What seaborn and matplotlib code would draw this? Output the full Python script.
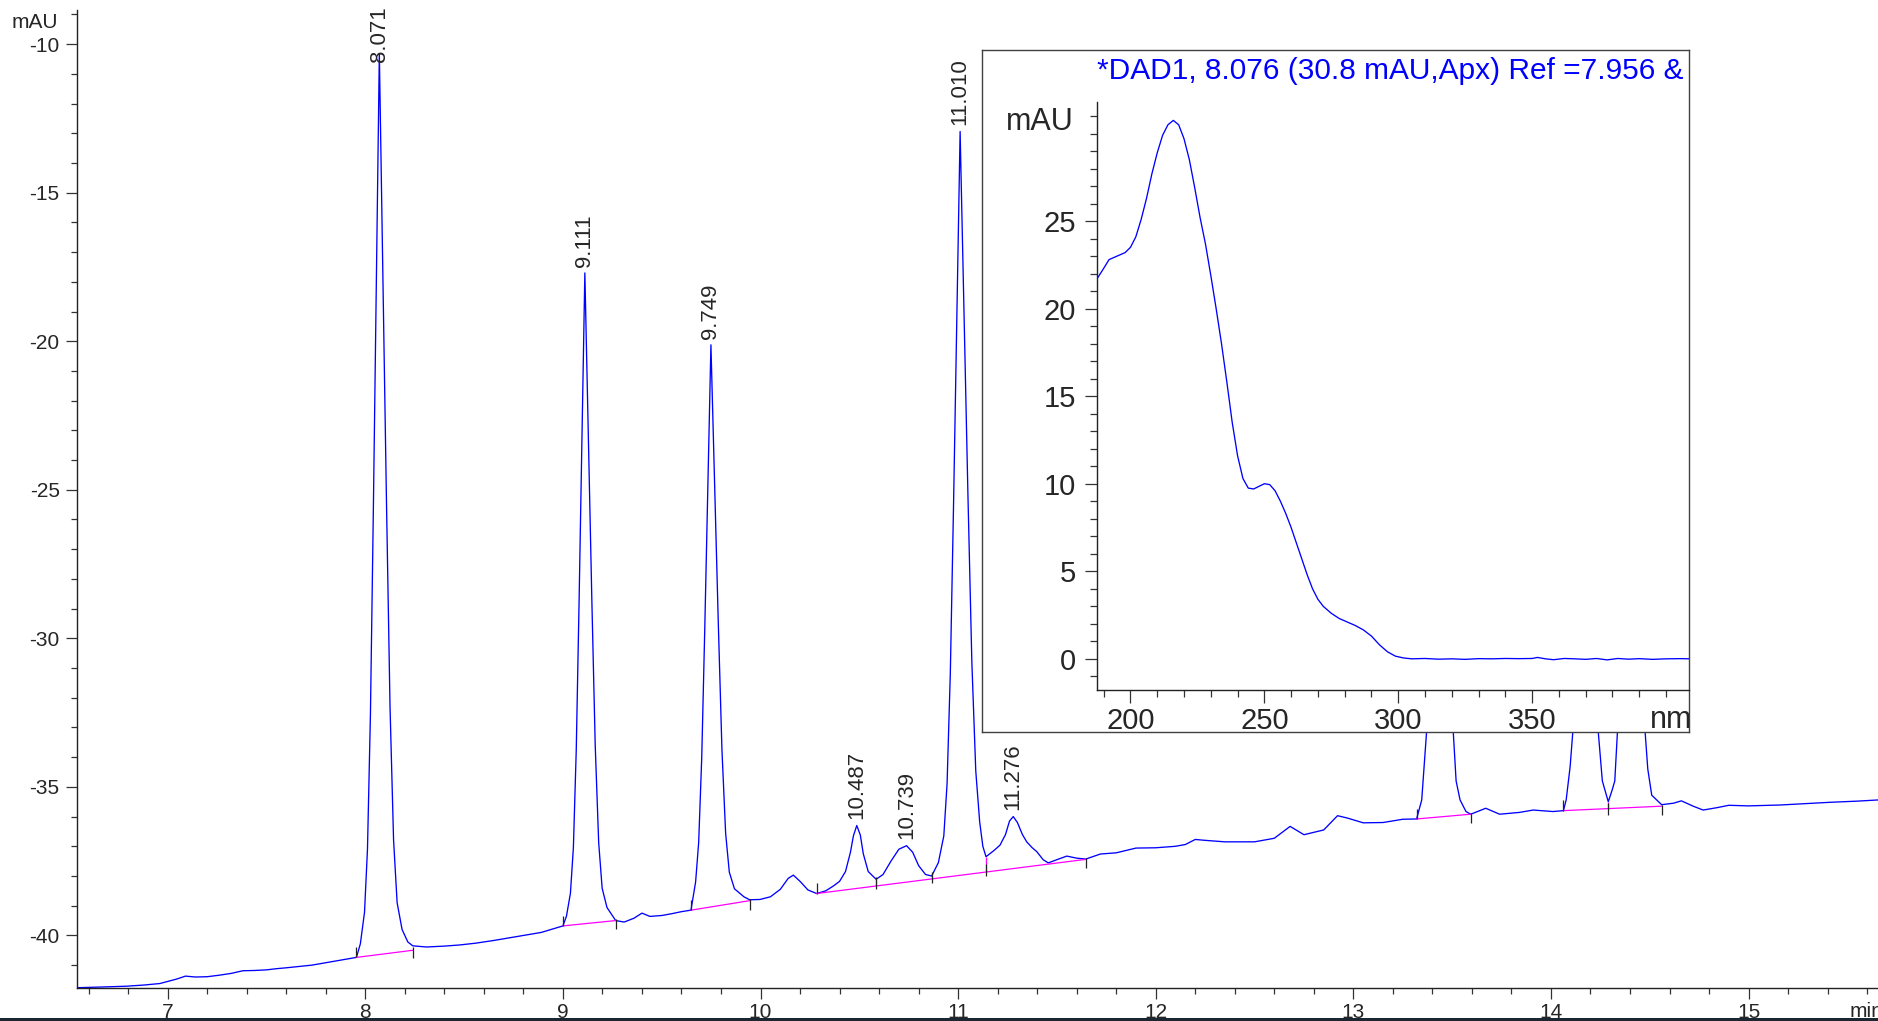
import matplotlib
matplotlib.use('Agg')
import pandas as pd
import matplotlib.pyplot as plt
import seaborn as sns
from matplotlib.ticker import MultipleLocator, FixedLocator
from matplotlib.patches import Rectangle

# chromatogram trace, values (min, mAU)
rt_min = [6.541, 6.65, 6.79, 6.88, 6.96, 7.045, 7.09, 7.14, 7.20, 7.26, 7.32, 7.38, 7.44,
          7.50, 7.55, 7.60, 7.66, 7.73, 7.79, 7.85, 7.90, 7.955, 7.975, 7.996, 8.011,
          8.026, 8.041, 8.056, 8.071, 8.089, 8.107, 8.125, 8.143, 8.161, 8.186, 8.215,
          8.24, 8.31, 8.40, 8.48, 8.56, 8.65, 8.73, 8.82, 8.89, 8.95, 9.0, 9.018, 9.038,
          9.053, 9.0675, 9.082, 9.0965, 9.111, 9.1285, 9.146, 9.1635, 9.181, 9.1985,
          9.223, 9.267, 9.31, 9.36, 9.40, 9.44, 9.50, 9.55, 9.60, 9.648, 9.6715, 9.687,
          9.7025, 9.718, 9.7335, 9.749, 9.7676, 9.7862, 9.8048, 9.8234, 9.842, 9.868,
          9.916, 9.945, 9.997, 10.05, 10.10, 10.14, 10.166, 10.20, 10.24, 10.284, 10.33,
          10.37, 10.40, 10.43, 10.455, 10.47, 10.487, 10.505, 10.52, 10.545, 10.585,
          10.62, 10.66, 10.70, 10.739, 10.77, 10.80, 10.835, 10.866, 10.90, 10.9275,
          10.944, 10.9605, 10.977, 10.9935, 11.010, 11.0298, 11.0496, 11.0694, 11.0892,
          11.109, 11.125, 11.141, 11.18, 11.212, 11.24, 11.26, 11.279, 11.30, 11.325,
          11.347, 11.375, 11.398, 11.43, 11.456, 11.50, 11.55, 11.60, 11.646, 11.72,
          11.80, 11.90, 12.00, 12.10, 12.15, 12.20, 12.25, 12.35, 12.50, 12.60, 12.68,
          12.75, 12.85, 12.92, 12.97, 13.05, 13.15, 13.25, 13.32, 13.346, 13.37, 13.40,
          13.44, 13.47, 13.506, 13.52, 13.54, 13.57, 13.594, 13.67, 13.74, 13.84, 13.91,
          14.01, 14.063, 14.077, 14.097, 14.11, 14.14, 14.17, 14.21, 14.24, 14.26, 14.29,
          14.31, 14.323, 14.336, 14.37, 14.41, 14.45, 14.477, 14.49, 14.51, 14.56, 14.62,
          14.66, 14.72, 14.77, 14.84, 14.90, 15.0, 15.16, 15.3, 15.41, 15.55, 15.655]
signal_mau = [-41.76, -41.74, -41.71, -41.67, -41.62, -41.47, -41.37, -41.40, -41.39,
              -41.34, -41.28, -41.19, -41.18, -41.16, -41.12, -41.09, -41.05, -41.00,
              -40.93, -40.86, -40.80, -40.74, -40.28, -39.22, -37.09, -32.53, -25.53,
              -17.92, -10.32, -17.84, -25.36, -32.28, -36.79, -38.90, -39.80, -40.22,
              -40.35, -40.39, -40.36, -40.32, -40.26, -40.17, -40.08, -39.98, -39.90,
              -39.78, -39.68, -39.35, -38.58, -37.04, -33.75, -28.69, -23.19, -17.70,
              -23.15, -28.60, -33.61, -36.88, -38.41, -39.06, -39.50, -39.55, -39.42,
              -39.25, -39.36, -39.33, -39.27, -39.20, -39.15, -38.20, -36.87, -34.01,
              -29.63, -24.88, -20.12, -24.79, -29.46, -33.76, -36.56, -37.87, -38.43,
              -38.70, -38.80, -38.79, -38.70, -38.45, -38.08, -37.97, -38.18, -38.47,
              -38.59, -38.50, -38.33, -38.18, -37.85, -37.20, -36.65, -36.30, -36.62,
              -37.25, -37.85, -38.11, -37.95, -37.50, -37.10, -36.98, -37.20, -37.65,
              -37.95, -38.00, -37.55, -36.65, -34.90, -31.16, -25.42, -19.18, -12.94,
              -19.05, -25.17, -30.80, -34.46, -36.18, -37.00, -37.35, -37.15, -36.96,
              -36.60, -36.15, -36.00, -36.20, -36.60, -36.85, -37.05, -37.18, -37.45,
              -37.56, -37.45, -37.33, -37.40, -37.43, -37.26, -37.22, -37.06, -37.05,
              -37.00, -36.94, -36.77, -36.80, -36.85, -36.85, -36.73, -36.33, -36.61,
              -36.45, -35.97, -36.05, -36.21, -36.20, -36.09, -36.08, -35.44, -33.20,
              -27.0, -21.0, -26.0, -33.20, -34.80, -35.44, -35.83, -35.92, -35.72,
              -35.92, -35.86, -35.78, -35.83, -35.80, -35.44, -34.32, -33.20, -27.0,
              -24.0, -28.0, -33.20, -34.80, -35.50, -35.10, -34.80, -33.20, -27.0, -25.0,
              -29.0, -33.20, -34.40, -35.28, -35.60, -35.55, -35.47, -35.65, -35.78,
              -35.70, -35.62, -35.64, -35.61, -35.56, -35.52, -35.48, -35.44]

# labelled peaks (retention time label, apex)
peak_rt = [8.071, 9.111, 9.749, 10.487, 10.739, 11.010, 11.276]
peak_apex = [-10.32, -17.70, -20.12, -36.30, -36.98, -12.94, -36.00]
peak_text = ['8.071', '9.111', '9.749', '10.487', '10.739', '11.010', '11.276']

# integration baselines
base_t0 = [7.955, 9.0, 9.648, 10.284, 13.32, 14.063]
base_v0 = [-40.74, -39.68, -39.15, -38.59, -36.08, -35.80]
base_t1 = [8.241, 9.267, 9.945, 11.646, 13.594, 14.56]
base_v1 = [-40.50, -39.50, -38.83, -37.44, -35.92, -35.65]

# valley drop lines
drop_t = [10.585, 10.866, 11.141, 14.29]
drop_top = [-38.11, -38.00, -37.35, -35.50]
drop_bottom = [-38.34, -38.10, -37.87, -35.73]

# peak start / end / valley event marks
event_t = [7.955, 8.241, 9.0, 9.267, 9.648, 9.945, 10.284, 10.585, 10.866, 11.141,
           11.646, 13.32, 13.594, 14.063, 14.29, 14.56]
event_v = [-40.74, -40.45, -39.68, -39.50, -39.15, -38.83, -38.59, -38.25, -38.05,
           -37.80, -37.44, -36.08, -35.92, -35.80, -35.73, -35.65]
event_kind = ['start', 'end', 'start', 'end', 'start', 'end', 'start', 'valley', 'valley',
              'valley', 'end', 'start', 'end', 'start', 'valley', 'end']

# UV spectrum at the apex of the 8.071 peak
wavelength_nm = [187.5, 190, 192, 195, 198, 200, 202, 204, 206, 208, 210, 212, 214, 216,
                 218, 220, 222, 224, 226, 228, 230, 232, 234, 236, 238, 240, 242, 244,
                 246, 248, 250, 252, 254, 256, 258, 260, 262, 264, 266, 268, 270, 272,
                 275, 278, 281, 284, 287, 290, 293, 296, 299, 302, 305, 310, 315, 320,
                 325, 330, 335, 340, 345, 350, 352, 355, 358, 362, 366, 370, 374, 378,
                 382, 386, 390, 395, 400, 405, 410]
absorb_mau = [21.7, 22.3, 22.8, 23.0, 23.2, 23.5, 24.1, 25.1, 26.3, 27.7, 28.9, 29.9,
              30.5, 30.75, 30.5, 29.7, 28.5, 26.9, 25.2, 23.7, 21.9, 20.0, 18.0, 15.8,
              13.5, 11.6, 10.3, 9.75, 9.7, 9.85, 10.0, 9.95, 9.6, 9.0, 8.3, 7.5, 6.6,
              5.7, 4.8, 4.0, 3.4, 3.0, 2.6, 2.3, 2.1, 1.9, 1.65, 1.3, 0.8, 0.4, 0.15,
              0.05, 0.0, 0.02, -0.02, 0.0, -0.03, 0.01, 0.0, 0.02, 0.01, 0.02, 0.08, 0.0,
              -0.05, 0.02, 0.0, -0.03, 0.02, -0.06, 0.02, -0.02, 0.01, -0.03, 0.0, 0.01,
              0.0]
spectrum_title = '*DAD1, 8.076 (30.8 mAU,Apx) Ref =7.956 & 8.249 of 001-0101.D'
spectrum_xticks = [200, 250, 300, 350]

sns.set_style('ticks')
plt.rcParams['font.family'] = ['Liberation Sans', 'DejaVu Sans']
plt.rcParams['axes.unicode_minus'] = False

W, H = 1878, 1021
fig = plt.figure(figsize=(W / 100, H / 100), dpi=100)

# main chromatogram
ax = fig.add_axes([77 / W, 1 - 988 / H, 1 - 77 / W, (988 - 10) / H])
chrom = pd.DataFrame({'time': rt_min, 'mAU': signal_mau})
sns.lineplot(data=chrom, x='time', y='mAU', color='#0000ff', lw=0.95,
             estimator=None, sort=False, ax=ax)

for t0, v0, t1, v1 in zip(base_t0, base_v0, base_t1, base_v1):
    ax.plot([t0, t1], [v0, v1], color='#ff00ff', lw=0.9, zorder=3)
ax.vlines(drop_t, drop_bottom, drop_top, color='#ff00ff', lw=0.9, zorder=3)
for t, v, k in zip(event_t, event_v, event_kind):
    if k == 'start':
        lo, hi = v, v + 0.35
    elif k == 'end':
        lo, hi = v - 0.3, v + 0.05
    else:
        lo, hi = v - 0.2, v + 0.2
    ax.vlines(t, lo, hi, color='#222222', lw=0.9, zorder=4)

ax.set_xlim(6.541, 15.655)
ax.set_ylim(-41.77, -8.85)
ax.xaxis.set_major_locator(MultipleLocator(1))
ax.xaxis.set_minor_locator(MultipleLocator(0.2))
ax.yaxis.set_major_locator(MultipleLocator(5))
ax.yaxis.set_minor_locator(MultipleLocator(1))
ax.set_xlabel('')
ax.set_ylabel('')
sns.despine(ax=ax)
for s in ['left', 'bottom']:
    ax.spines[s].set_color('#222222')
    ax.spines[s].set_linewidth(1.0)
ax.tick_params(which='major', length=8, width=0.9, color='#333333', labelsize=15)
ax.tick_params(which='minor', length=4.3, width=0.9, color='#333333')
ax.tick_params(axis='x', which='major', pad=2.5)
ax.tick_params(axis='y', which='major', pad=4.5)

ytop = ax.get_ylim()[1]
for t, v, s in zip(peak_rt, peak_apex, peak_text):
    if v + 2.3 > ytop:
        ax.annotate(s, xy=(t, 1.0), xycoords=('data', 'axes fraction'),
                    xytext=(0, 3), textcoords='offset points', rotation=90,
                    ha='center', va='top', fontsize=16, annotation_clip=False)
    else:
        ax.annotate(s, xy=(t, v), xytext=(0, 4.5), textcoords='offset points',
                    rotation=90, ha='center', va='bottom', fontsize=16)

fig.text(58 / W, 1 - 28 / H, 'mAU', ha='right', va='baseline', fontsize=15)
fig.text(1850 / W, 1 - 1017 / H, 'min', ha='left', va='baseline', fontsize=15)

# inset frame with the UV spectrum
fl, ft, fr, fb = 982, 50, 1689, 732
axf = fig.add_axes([fl / W, 1 - fb / H, (fr - fl) / W, (fb - ft) / H])
axf.set_facecolor('white')
axf.set_xticks([])
axf.set_yticks([])
for s in axf.spines.values():
    s.set_visible(True)
    s.set_color('#404040')
    s.set_linewidth(1.0)
fw, fh = fr - fl, fb - ft
axf.text((1097 - fl) / fw, 1 - 29 / fh, spectrum_title, color='#0000ff', fontsize=21.5,
         ha='left', va='baseline', transform=axf.transAxes, clip_on=True)
axf.text((1006 - fl) / fw, 1 - 80 / fh, 'mAU', fontsize=22, ha='left', va='baseline',
         transform=axf.transAxes)
axf.text((1650 - fl) / fw, 0.006, 'nm', fontsize=22, ha='left', va='baseline',
         transform=axf.transAxes, clip_on=True)

axi = fig.add_axes([1097 / W, 1 - 690 / H, (fr - 1097) / W, (690 - 102) / H])
axi.set_facecolor('none')
spec = pd.DataFrame({'nm': wavelength_nm, 'mAU': absorb_mau})
sns.lineplot(data=spec, x='nm', y='mAU', color='#0000ff', lw=0.95,
             estimator=None, sort=False, ax=axi)
axi.set_xlim(187.5, 408.6)
axi.set_ylim(-1.78, 31.8)
axi.xaxis.set_major_locator(FixedLocator(spectrum_xticks))
axi.xaxis.set_minor_locator(FixedLocator(list(range(190, 410, 10))))
axi.yaxis.set_major_locator(FixedLocator([0, 5, 10, 15, 20, 25]))
axi.yaxis.set_minor_locator(FixedLocator(list(range(-1, 32))))
axi.set_xlabel('')
axi.set_ylabel('')
sns.despine(ax=axi)
for s in ['left', 'bottom']:
    axi.spines[s].set_color('#222222')
    axi.spines[s].set_linewidth(1.0)
axi.tick_params(which='major', length=9, width=0.9, color='#333333', labelsize=21)
axi.tick_params(which='minor', length=5, width=0.9, color='#333333')
axi.tick_params(axis='x', which='major', pad=3.5)
axi.tick_params(axis='y', which='major', pad=6)

# thin dark strip at the bottom edge of the screenshot
fig.add_artist(Rectangle((0, 0), 1, 3 / H, transform=fig.transFigure,
                         color='#1b2631', lw=0))

fig.savefig('out.png', dpi=100)
